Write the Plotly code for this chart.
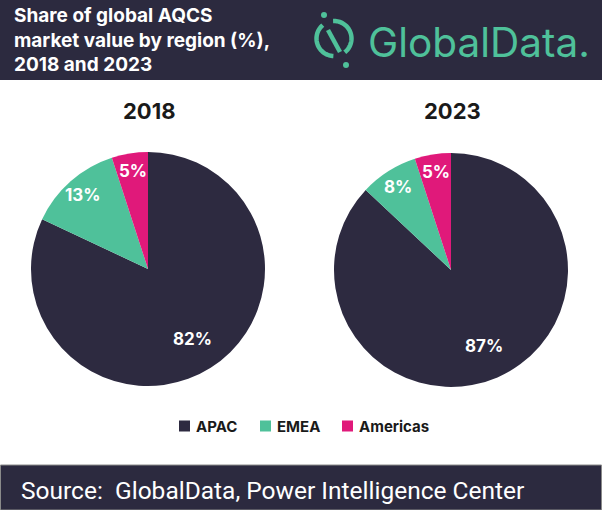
import numpy as np
import plotly.graph_objects as go

regions = ["APAC", "EMEA", "Americas"]
share_2018 = [82, 13, 5]
share_2023 = [87, 8, 5]
years = ["2018", "2023"]
colors = ["#2d2a40", "#4fc19a", "#e0197a"]

W, H = 602, 510
DARK = "#2c2a3f"
GREEN = "#4fc19a"

fig = go.Figure()

# pie geometry in pixels (center x, center y, radius)
pie_geo = [(148, 269, 117), (451, 270, 117)]

annotations = []
for i, (yr, vals) in enumerate(zip(years, [share_2018, share_2023])):
    cx, cy, r = pie_geo[i]
    dom = dict(x=[(cx - r) / W, (cx + r) / W], y=[(H - cy - r) / H, (H - cy + r) / H])
    fig.add_trace(go.Pie(
        labels=regions, values=vals, domain=dom, name=yr,
        sort=False, direction="clockwise", rotation=0,
        marker=dict(colors=colors, line=dict(width=0)),
        textinfo="none", showlegend=False, hoverinfo="label+percent",
    ))
    # slice labels at the slice mid-angle
    total = float(sum(vals))
    cum = 0.0
    for v in vals:
        mid = (cum + v / 2) / total * 2 * np.pi
        cum += v
        f = 0.71 if v / total > 0.5 else 0.845
        annotations.append(dict(
            text=f"{v}%", xref="x", yref="y",
            x=cx + f * r * np.sin(mid), y=cy - f * r * np.cos(mid),
            showarrow=False,
            font=dict(family="Inter", size=17, color="white", weight="bold")))
    annotations.append(dict(
        text=yr, xref="x", yref="y", x=cx + 1, y=111, showarrow=False,
        font=dict(family="Inter", size=22, color="#1a1a1a", weight="bold")))

# hidden pixel axes for decorations
fig.update_layout(
    xaxis=dict(range=[0, W], visible=False, fixedrange=True),
    yaxis=dict(range=[H, 0], visible=False, fixedrange=True),
)

shapes = [
    dict(type="rect", xref="x", yref="y", x0=0, x1=W, y0=0, y1=80,
         fillcolor=DARK, line=dict(width=0), layer="below"),
    dict(type="rect", xref="x", yref="y", x0=0.5, x1=W - 0.5, y0=465, y1=H,
         fillcolor=DARK, line=dict(width=1, color="#8a8a8a"), layer="below"),
]

# legend (region squares + names)
legend_x = [179, 260, 342]
for name, col, x0 in zip(regions, colors, legend_x):
    shapes.append(dict(type="rect", xref="x", yref="y", x0=x0, x1=x0 + 11,
                       y0=420.5, y1=431.5, fillcolor=col, line=dict(width=0)))
    annotations.append(dict(text=name, xref="x", yref="y", x=x0 + 14.5, y=426,
                            xanchor="left", yanchor="middle", showarrow=False,
                            font=dict(family="Inter", size=15, color="#1a1a1a",
                                      weight="bold")))

# logo icon: two arcs, a slanted bar, two dots
lx, ly, lr = 334, 38.5, 17.5
def arc(a0, a1):
    t = np.radians(np.linspace(a0, a1, 40))
    xs = lx + lr * np.cos(t)
    ys = ly - lr * np.sin(t)
    return "M " + " L ".join(f"{x:.2f},{y:.2f}" for x, y in zip(xs, ys))

shapes.append(dict(type="path", xref="x", yref="y", path=arc(130, 268),
                   line=dict(color=GREEN, width=4.5)))
shapes.append(dict(type="path", xref="x", yref="y", path=arc(-52, 93),
                   line=dict(color=GREEN, width=4.5)))
shapes.append(dict(type="line", xref="x", yref="y", x0=328, y0=30, x1=340, y1=52,
                   line=dict(color=GREEN, width=4.5)))
for (dx, dy) in [(324, 15), (346, 65)]:
    shapes.append(dict(type="circle", xref="x", yref="y", x0=dx - 3, x1=dx + 3,
                       y0=dy - 3, y1=dy + 3, fillcolor=GREEN, line=dict(width=0)))

annotations += [
    dict(text="Share of global AQCS<br>market value by region (%),<br>2018 and 2023",
         xref="x", yref="y", x=12, y=40, xanchor="left", yanchor="middle",
         align="left", showarrow=False,
         font=dict(family="Inter", size=19, color="white", weight="bold")),
    dict(text="GlobalData.", xref="x", yref="y", x=366, y=42, xanchor="left",
         yanchor="middle", showarrow=False,
         font=dict(family="Inter", size=40.5, color=GREEN)),
    dict(text="Source:  GlobalData, Power Intelligence Center", xref="x", yref="y",
         x=19, y=490, xanchor="left", yanchor="middle", showarrow=False,
         font=dict(family="Roboto", size=24.5, color="white")),
]

fig.update_layout(
    width=W, height=H, margin=dict(l=0, r=0, t=0, b=0),
    paper_bgcolor="white", plot_bgcolor="white",
    shapes=shapes, annotations=annotations, showlegend=False,
)

fig.write_html("out.html", config={"displayModeBar": False})

# remove the browser's default body margin so the figure sits at (0, 0)
with open("out.html", encoding="utf-8") as fh:
    html = fh.read()
html = html.replace("<head>", "<head><style>html,body{margin:0;padding:0;}</style>", 1)
with open("out.html", "w", encoding="utf-8") as fh:
    fh.write(html)
